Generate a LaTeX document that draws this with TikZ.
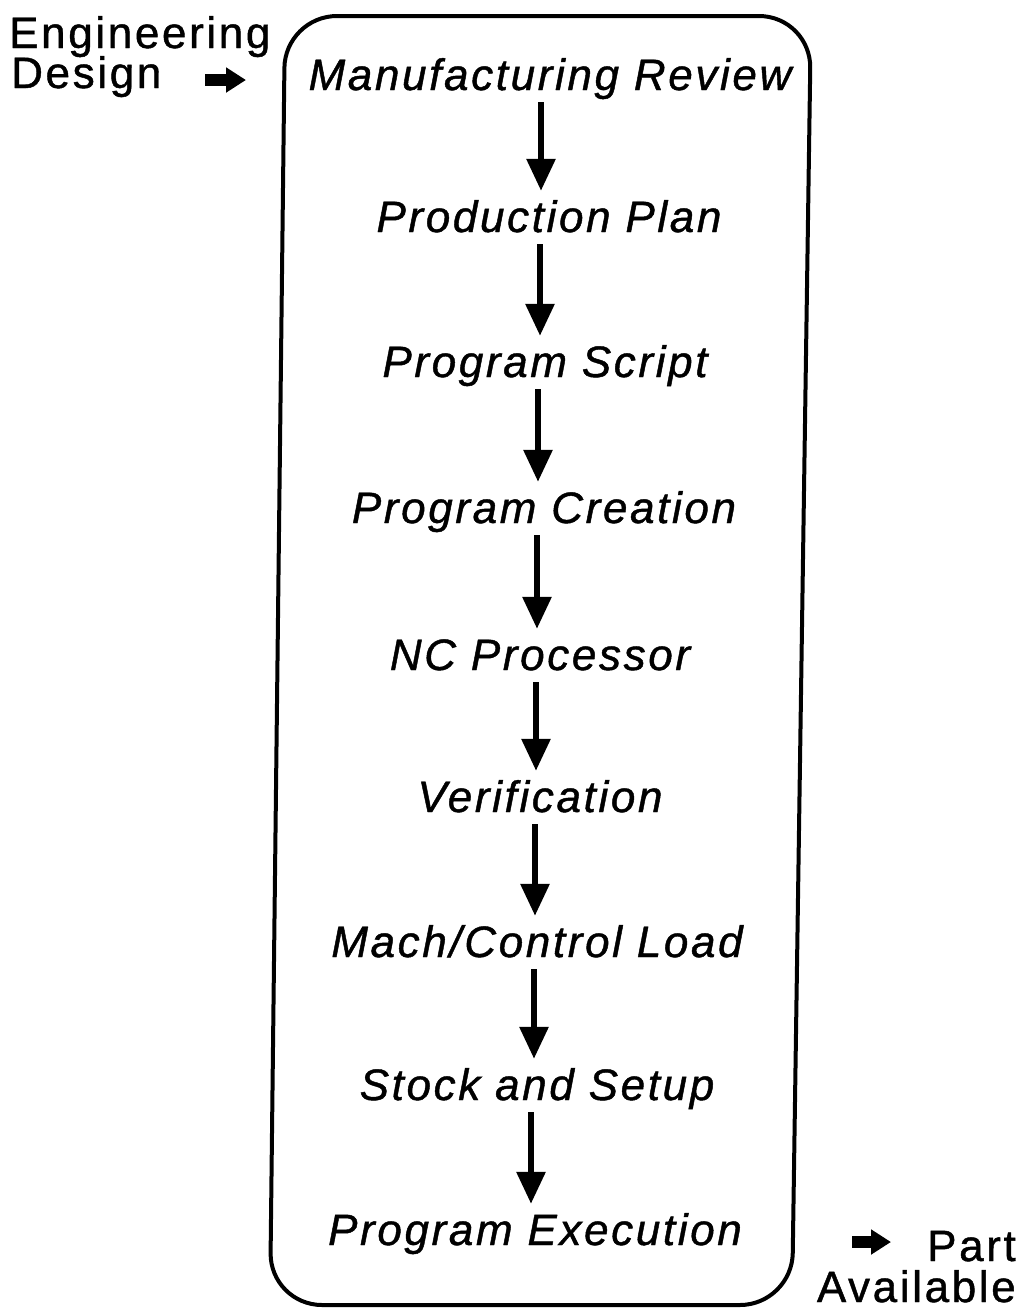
\documentclass[tikz,border=0pt]{standalone}
\usepackage{fontspec}
\setmainfont{Liberation Sans}[LetterSpace=6, FakeBold=1]
\usetikzlibrary{arrows.meta}
\begin{document}
\begin{tikzpicture}[x=1pt,y=-1pt,
  lbl/.style={font=\fontsize{44}{44}\selectfont\itshape, inner sep=0pt, text height=32pt, text depth=9pt, anchor=base},
  side/.style={font=\fontsize{44}{44}\selectfont, inner sep=0pt, anchor=base west},
  flow/.style={line width=6pt, -{Triangle[width=28pt,length=32pt]}, shorten <=3pt, shorten >=9pt},
  block/.style={line width=12pt, -{Triangle[width=24pt,length=20pt]}}]
\useasboundingbox (0,0) rectangle (1027,1310);
% frame
\draw[line width=4pt, rounded corners=52pt] (285,16) -- (811,16) -- (792,1305) -- (270,1305) -- cycle;
% steps
\node[lbl] (s1) at (550,90) {Manufacturing Review};
\node[lbl] (s2) at (549,232) {Production Plan};
\node[lbl] (s3) at (545,377) {Program Script};
\node[lbl] (s4) at (544,523) {Program Creation};
\node[lbl] (s5) at (540,670) {NC Processor};
\node[lbl] (s6) at (540,812) {Verification};
\node[lbl] (s7) at (537,957) {Mach/Control Load};
\node[lbl] (s8) at (537,1100) {Stock and Setup};
\node[lbl] (s9) at (535,1245) {Program Execution};
% arrow columns
\coordinate (x1) at (541,0);
\coordinate (x2) at (540,0);
\coordinate (x3) at (538,0);
\coordinate (x4) at (537,0);
\coordinate (x5) at (536,0);
\coordinate (x6) at (535,0);
\coordinate (x7) at (534,0);
\coordinate (x8) at (531,0);
\draw[flow] (s1.south -| x1) -- (s2.north -| x1);
\draw[flow] (s2.south -| x2) -- (s3.north -| x2);
\draw[flow] (s3.south -| x3) -- (s4.north -| x3);
\draw[flow] (s4.south -| x4) -- (s5.north -| x4);
\draw[flow] (s5.south -| x5) -- (s6.north -| x5);
\draw[flow] (s6.south -| x6) -- (s7.north -| x6);
\draw[flow] (s7.south -| x7) -- (s8.north -| x7);
\draw[flow] (s8.south -| x8) -- (s9.north -| x8);
% input
\node[side] (eng) at (9,48) {Engineering};
\node[side] (des) at (11,88) {Design};
\coordinate (ina) at (205,80);
\coordinate (inb) at (246,80);
\draw[block] (ina) -- (inb);
% output
\node[side, anchor=base east] (part) at (1016,1261) {Part};
\node[side, anchor=base east] (avail) at (1016,1302) {Available};
\coordinate (outa) at (852,1242);
\coordinate (outb) at (891,1242);
\draw[block] (outa) -- (outb);
\end{tikzpicture}
\end{document}
